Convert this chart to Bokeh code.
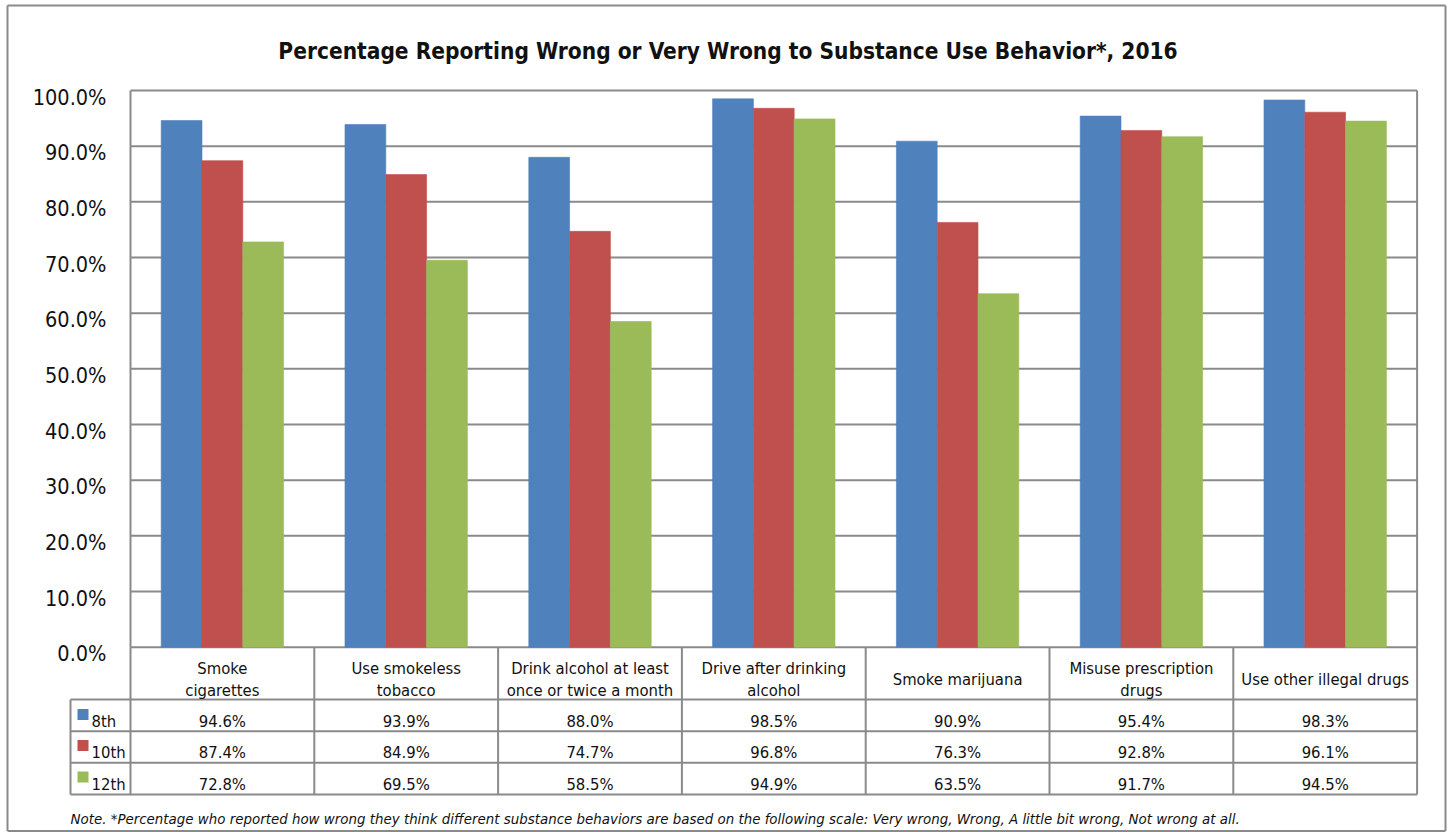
from bokeh.plotting import figure
from bokeh.models import Range1d, ColumnDataSource
from bokeh.embed import file_html
from bokeh.resources import INLINE
from bokeh.core.properties import value

# ---------------- data ----------------
categories = [
    "Smoke\ncigarettes",
    "Use smokeless\ntobacco",
    "Drink alcohol at least\nonce or twice a month",
    "Drive after drinking\nalcohol",
    "Smoke marijuana",
    "Misuse prescription\ndrugs",
    "Use other illegal drugs",
]
series_names = ["8th", "10th", "12th"]
grade8 = [94.6, 93.9, 88.0, 98.5, 90.9, 95.4, 98.3]
grade10 = [87.4, 84.9, 74.7, 96.8, 76.3, 92.8, 96.1]
grade12 = [72.8, 69.5, 58.5, 94.9, 63.5, 91.7, 94.5]
y_ticks = [0, 10, 20, 30, 40, 50, 60, 70, 80, 90, 100]
y_tick_labels = ["0.0%", "10.0%", "20.0%", "30.0%", "40.0%", "50.0%",
                 "60.0%", "70.0%", "80.0%", "90.0%", "100.0%"]
title_text = "Percentage Reporting Wrong or Very Wrong to Substance Use Behavior*, 2016"
note_text = ("Note. *Percentage who reported how wrong they think different substance "
             "behaviors are based on the following scale: Very wrong, Wrong, "
             "A little bit wrong, Not wrong at all.")

series_values = [grade8, grade10, grade12]
colors = ["#4F81BD", "#C0504D", "#9BBB59"]
FONT = "DejaVu Sans Condensed"
LINE = "#8a8a8a"
TXT = "#111111"

# ---------------- layout (page pixels -> data) ----------------
W, H = 1453, 832
PX0 = 130.0      # left edge of plot area
CAT_W = 183.8    # pixel width of one category
Y0 = 646.7       # pixel of 0 %
PXU = 5.567      # pixels per percentage point


def dx(px):
    return (px - PX0) / CAT_W


def dy(py):
    return (Y0 - py) / PXU


n = len(categories)
p = figure(width=W, height=H, output_backend="svg", toolbar_location=None,
           x_axis_type=None, y_axis_type=None,
           x_range=Range1d(dx(0), dx(W)),
           y_range=Range1d(dy(H), dy(0)))
p.min_border = 0
p.outline_line_color = None
p.background_fill_color = "white"
p.border_fill_color = "white"

# outer chart border
bx0, bx1, by0, by1 = dx(7), dx(1445), dy(5), dy(830.5)
p.segment(x0=[bx0, bx1, bx0, bx0], x1=[bx0, bx1, bx1, bx1],
          y0=[by0, by0, by0, by1], y1=[by1, by1, by0, by1],
          line_color=LINE, line_width=2)

# gridlines
p.segment(x0=[0] * len(y_ticks), x1=[n] * len(y_ticks), y0=y_ticks, y1=y_ticks,
          line_color=LINE, line_width=2)
# plot-area sides
p.segment(x0=[0, n], x1=[0, n], y0=[0, 0], y1=[y_ticks[-1], y_ticks[-1]],
          line_color=LINE, line_width=2)

# bars
bw = 0.222
for j, (name, vals) in enumerate(zip(series_names, series_values)):
    src = ColumnDataSource(dict(x=[i + 0.5 + (j - 1) * bw for i in range(n)], top=vals))
    p.vbar(x="x", top="top", bottom=0, width=bw, source=src,
           fill_color=colors[j], line_color=colors[j], line_alpha=0.6)

# y tick labels
p.text(x=[dx(106)] * len(y_ticks), y=[t - 6.6 / PXU for t in y_ticks], text=y_tick_labels,
       text_font=value(FONT), text_font_size="21.5px", text_align="right",
       text_baseline="alphabetic", text_color=TXT)

# title
p.text(x=[dx(727.5)], y=[dy(50)], text=[title_text], text_font=value(FONT),
       text_font_size="22.5px", text_font_style="bold", text_align="center",
       text_baseline="alphabetic", text_color=TXT)

# ---------------- data table ----------------
row_lines = [699.0, 730.7, 762.3, 794.0]
p.segment(x0=[dx(70)] * len(row_lines), x1=[n] * len(row_lines),
          y0=[dy(r) for r in row_lines], y1=[dy(r) for r in row_lines],
          line_color=LINE, line_width=2)
p.segment(x0=list(range(n + 1)), x1=list(range(n + 1)), y0=[0] * (n + 1),
          y1=[dy(794.0)] * (n + 1), line_color=LINE, line_width=2)
p.segment(x0=[dx(70)], x1=[dx(70)], y0=[dy(699.0)], y1=[dy(794.0)],
          line_color=LINE, line_width=2)

TFS = "16.5px"
# category header labels
cx, cy, ct = [], [], []
for i, lab in enumerate(categories):
    lines = lab.split("\n")
    bases = [678.5] if len(lines) == 1 else [667.5, 689.5]
    for ln, b in zip(lines, bases):
        cx.append(i + 0.5)
        cy.append(dy(b))
        ct.append(ln)
p.text(x=cx, y=cy, text=ct, text_font=value(FONT), text_font_size=TFS,
       text_align="center", text_baseline="alphabetic", text_color=TXT)

# values
row_base = [721.0, 752.0, 783.5]
vx, vy, vt = [], [], []
for j, vals in enumerate(series_values):
    for i, v in enumerate(vals):
        vx.append(i + 0.5)
        vy.append(dy(row_base[j]))
        vt.append(f"{v:.1f}%")
p.text(x=vx, y=vy, text=vt, text_font=value(FONT), text_font_size=TFS,
       text_align="center", text_baseline="alphabetic", text_color=TXT)

# legend keys
p.scatter(x=[dx(82.5)] * 3, y=[dy(b - 7) for b in row_base], marker="square",
          size=11, fill_color=colors, line_color=None)
p.text(x=[dx(91)] * 3, y=[dy(b) for b in row_base], text=series_names,
       text_font=value(FONT), text_font_size=TFS, text_align="left",
       text_baseline="alphabetic", text_color=TXT)

# note
p.text(x=[dx(70)], y=[dy(818)], text=[note_text], text_font=value(FONT),
       text_font_size="14.9px", text_font_style="italic", text_align="left",
       text_baseline="alphabetic", text_color=TXT)

open("out.html", "w").write(file_html(p, INLINE))
